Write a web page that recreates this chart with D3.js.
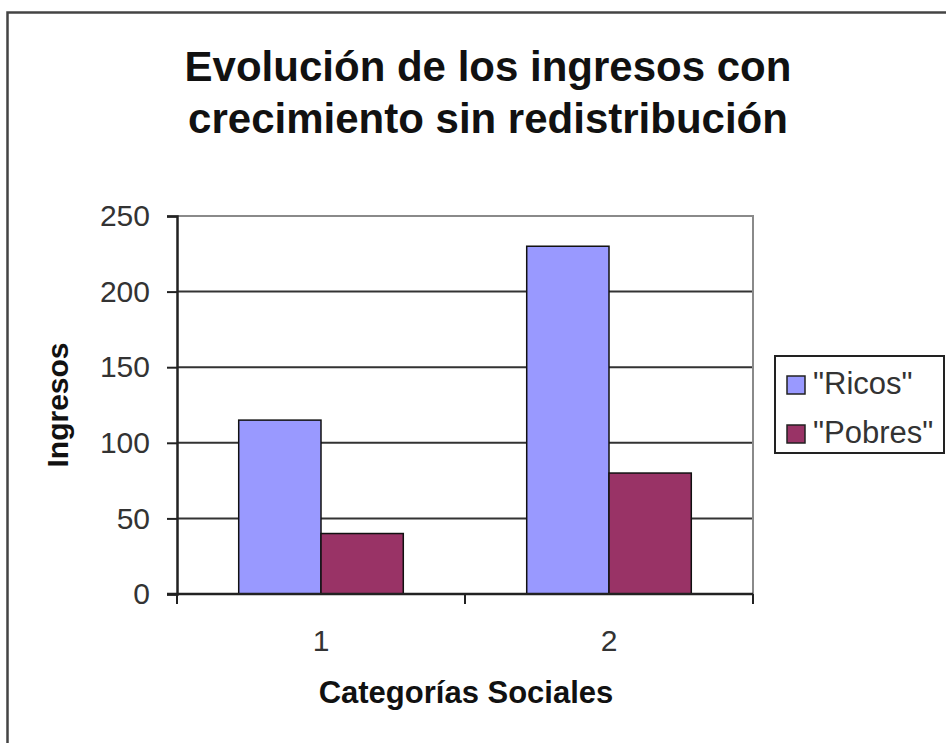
<!DOCTYPE html>
<html>
<head>
<meta charset="utf-8">
<script src="https://cdn.jsdelivr.net/npm/d3@7"></script>
<style>
  body { margin: 0; background: #fff; }
  svg { display: block; font-family: "Liberation Sans", Arial, sans-serif; }
</style>
</head>
<body>
<div id="container"></div>
<script>
// data
let categories = ["1", "2"]
let seriesNames = ['"Ricos"', '"Pobres"']
let ricos = [115, 230]
let pobres = [40, 80]
let yTicks = [0, 50, 100, 150, 200, 250]
let titleLines = ["Evolución de los ingresos con", "crecimiento sin redistribución"]

let colors = ["#9999ff", "#993366"]
let width = 946
let height = 743
let margin = {top: 216, right: 193, bottom: 149, left: 177}

let svg = d3.select("#container")
    .append("svg")
    .attr("width", width)
    .attr("height", height)

// outer chart border
svg.append("rect")
    .attr("x", 7.5).attr("y", 12.5)
    .attr("width", 960).attr("height", 760)
    .attr("fill", "none")
    .attr("stroke", "#444")
    .attr("stroke-width", 2.5)

let table = categories.map((c, i) => ({cat: c, values: [ricos[i], pobres[i]]}))

let x0 = d3.scaleBand()
    .domain(categories)
    .range([margin.left, width - margin.right])
    .paddingInner(1.5 / 3.5)
    .paddingOuter(0.75 / 3.5)

let x1 = d3.scaleBand()
    .domain(d3.range(seriesNames.length))
    .range([0, x0.bandwidth()])

let y = d3.scaleLinear()
    .domain([0, 250])
    .range([height - margin.bottom, margin.top])

// gridlines
svg.append("g")
    .selectAll("line")
    .data(yTicks.slice(1, -1))
    .join("line")
    .attr("x1", margin.left).attr("x2", width - margin.right)
    .attr("y1", d => y(d)).attr("y2", d => y(d))
    .attr("stroke", "#333")
    .attr("stroke-width", 2)

// plot area border (top, right)
svg.append("path")
    .attr("d", `M${margin.left},${y(250)}H${width - margin.right}V${y(0)}`)
    .attr("fill", "none")
    .attr("stroke", "#8a8a8a")
    .attr("stroke-width", 2)

// bars
svg.append("g")
    .selectAll("g")
    .data(table)
    .join("g")
    .attr("transform", d => `translate(${x0(d.cat)},0)`)
    .selectAll("rect")
    .data(d => d.values)
    .join("rect")
        .attr("x", (d, i) => x1(i))
        .attr("y", d => y(d))
        .attr("width", x1.bandwidth())
        .attr("height", d => y(0) - y(d))
        .attr("fill", (d, i) => colors[i])
        .attr("stroke", "#111")
        .attr("stroke-width", 1.5)

// y axis
svg.append("g")
    .attr("transform", `translate(${margin.left},0)`)
    .call(d3.axisLeft(y).tickValues(yTicks).tickSize(10).tickPadding(17))
    .call(g => g.select(".domain").attr("stroke", "#222").attr("stroke-width", 2.5))
    .call(g => g.selectAll(".tick line").attr("stroke", "#222").attr("stroke-width", 2))
    .call(g => g.selectAll(".tick text")
        .attr("font-size", 30)
        .attr("font-family", "Liberation Sans, Arial, sans-serif")
        .attr("fill", "#333"))

// x axis: ticks at band boundaries, labels centred in bands
let xAxisY = height - margin.bottom
let xg = svg.append("g")
    .attr("transform", `translate(0,${xAxisY})`)
xg.append("line")
    .attr("x1", margin.left - 10).attr("x2", width - margin.right)
    .attr("stroke", "#222").attr("stroke-width", 2.5)
let step = (width - margin.right - margin.left) / categories.length
xg.selectAll(".bt")
    .data(d3.range(categories.length + 1))
    .join("line")
    .attr("class", "bt")
    .attr("x1", i => margin.left + i * step).attr("x2", i => margin.left + i * step)
    .attr("y1", 0).attr("y2", 10)
    .attr("stroke", "#222").attr("stroke-width", 2)
xg.selectAll("text")
    .data(categories)
    .join("text")
    .attr("x", d => x0(d) + x0.bandwidth() / 2)
    .attr("y", 57)
    .attr("text-anchor", "middle")
    .attr("font-size", 30)
    .attr("fill", "#333")
    .text(d => d)

// titles
svg.append("g")
    .selectAll("text")
    .data(titleLines)
    .join("text")
    .attr("x", 488)
    .attr("y", (d, i) => 81 + i * 52)
    .attr("text-anchor", "middle")
    .attr("font-size", 42)
    .attr("font-weight", "bold")
    .attr("fill", "#111")
    .text(d => d)

svg.append("text")
    .attr("x", 466)
    .attr("y", 703)
    .attr("text-anchor", "middle")
    .attr("font-size", 31)
    .attr("font-weight", "bold")
    .attr("fill", "#111")
    .text("Categorías Sociales")

svg.append("text")
    .attr("transform", `translate(68,${y(125)}) rotate(-90)`)
    .attr("text-anchor", "middle")
    .attr("font-size", 30)
    .attr("font-weight", "bold")
    .attr("fill", "#111")
    .text("Ingresos")

// legend
let legend = svg.append("g")
    .attr("transform", "translate(775,356)")
legend.append("rect")
    .attr("width", 169).attr("height", 97)
    .attr("fill", "#fff")
    .attr("stroke", "#222")
    .attr("stroke-width", 2)
let items = legend.selectAll(".item")
    .data(seriesNames)
    .join("g")
    .attr("class", "item")
    .attr("transform", (d, i) => `translate(12,${20 + i * 49})`)
items.append("rect")
    .attr("width", 18).attr("height", 18)
    .attr("fill", (d, i) => colors[i])
    .attr("stroke", "#222")
    .attr("stroke-width", 1.5)
items.append("text")
    .attr("x", 26)
    .attr("y", 18)
    .attr("font-size", 31)
    .attr("fill", "#333")
    .text(d => d)
</script>
</body>
</html>
